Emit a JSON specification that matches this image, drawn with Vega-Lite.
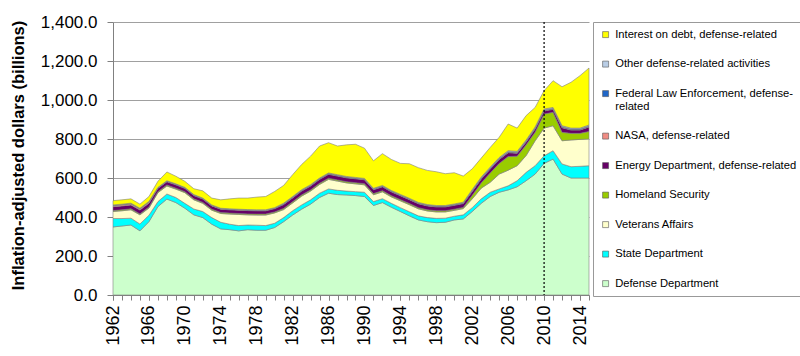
{
  "$schema": "https://vega.github.io/schema/vega-lite/v6.json",
  "width": 476,
  "height": 273,
  "autosize": {"type": "none"},
  "padding": {"left": 113, "top": 22, "right": 211, "bottom": 61},
  "background": "white",
  "config": {"view": {"stroke": null}, "font": "Liberation Sans"},
  "datasets": {
    "spend": [
      {"Year":1962,"D":349,"S":43,"V":36,"H":5,"E":20,"N":6,"F":1,"O":2,"I":22},
      {"Year":1963,"D":354,"S":38,"V":40,"H":5,"E":20,"N":6,"F":1,"O":2,"I":22},
      {"Year":1964,"D":359,"S":35,"V":43,"H":5,"E":20,"N":6,"F":1,"O":2,"I":22},
      {"Year":1965,"D":329,"S":35,"V":47,"H":5,"E":20,"N":6,"F":1,"O":2,"I":21},
      {"Year":1966,"D":376,"S":33,"V":37,"H":5,"E":20,"N":6,"F":1,"O":2,"I":25},
      {"Year":1967,"D":453,"S":26,"V":46,"H":5,"E":17,"N":2,"F":1,"O":2,"I":31},
      {"Year":1968,"D":492,"S":26,"V":41,"H":5,"E":17,"N":2,"F":1,"O":2,"I":45},
      {"Year":1969,"D":474,"S":26,"V":43,"H":5,"E":17,"N":2,"F":1,"O":2,"I":39},
      {"Year":1970,"D":445,"S":25,"V":55,"H":5,"E":17,"N":2,"F":1,"O":2,"I":31},
      {"Year":1971,"D":411,"S":30,"V":47,"H":5,"E":17,"N":2,"F":1,"O":2,"I":30},
      {"Year":1972,"D":397,"S":31,"V":42,"H":5,"E":17,"N":2,"F":1,"O":2,"I":37},
      {"Year":1973,"D":363,"S":34,"V":38,"H":5,"E":17,"N":2,"F":1,"O":2,"I":35},
      {"Year":1974,"D":339,"S":34,"V":45,"H":5,"E":17,"N":2,"F":1,"O":2,"I":43},
      {"Year":1975,"D":335,"S":28,"V":52,"H":5,"E":17,"N":2,"F":1,"O":2,"I":51},
      {"Year":1976,"D":329,"S":27,"V":57,"H":5,"E":17,"N":2,"F":1,"O":2,"I":57},
      {"Year":1977,"D":335,"S":24,"V":52,"H":5,"E":17,"N":2,"F":1,"O":2,"I":59},
      {"Year":1978,"D":332,"S":26,"V":52,"H":5,"E":17,"N":2,"F":1,"O":2,"I":65},
      {"Year":1979,"D":332,"S":24,"V":54,"H":5,"E":17,"N":2,"F":1,"O":2,"I":68},
      {"Year":1980,"D":346,"S":22,"V":53,"H":5,"E":17,"N":2,"F":1,"O":2,"I":83},
      {"Year":1981,"D":376,"S":21,"V":41,"H":6,"E":20,"N":2,"F":2,"O":3,"I":91},
      {"Year":1982,"D":410,"S":22,"V":40,"H":6,"E":20,"N":2,"F":2,"O":3,"I":112},
      {"Year":1983,"D":440,"S":22,"V":45,"H":6,"E":20,"N":2,"F":2,"O":3,"I":129},
      {"Year":1984,"D":466,"S":22,"V":45,"H":6,"E":20,"N":2,"F":2,"O":3,"I":146},
      {"Year":1985,"D":500,"S":22,"V":45,"H":6,"E":20,"N":2,"F":2,"O":3,"I":164},
      {"Year":1986,"D":522,"S":22,"V":49,"H":6,"E":20,"N":2,"F":2,"O":3,"I":155},
      {"Year":1987,"D":515,"S":22,"V":47,"H":6,"E":20,"N":2,"F":2,"O":3,"I":147},
      {"Year":1988,"D":513,"S":20,"V":42,"H":6,"E":20,"N":2,"F":2,"O":3,"I":162},
      {"Year":1989,"D":510,"S":20,"V":40,"H":6,"E":20,"N":2,"F":2,"O":3,"I":170},
      {"Year":1990,"D":505,"S":22,"V":38,"H":6,"E":20,"N":2,"F":2,"O":3,"I":155},
      {"Year":1991,"D":459,"S":20,"V":35,"H":6,"E":20,"N":2,"F":2,"O":3,"I":141},
      {"Year":1992,"D":474,"S":20,"V":35,"H":6,"E":20,"N":2,"F":2,"O":3,"I":163},
      {"Year":1993,"D":450,"S":20,"V":33,"H":6,"E":20,"N":2,"F":2,"O":3,"I":159},
      {"Year":1994,"D":428,"S":20,"V":35,"H":6,"E":20,"N":2,"F":2,"O":3,"I":159},
      {"Year":1995,"D":406,"S":21,"V":36,"H":6,"E":20,"N":2,"F":2,"O":3,"I":177},
      {"Year":1996,"D":385,"S":21,"V":36,"H":6,"E":20,"N":2,"F":2,"O":3,"I":178},
      {"Year":1997,"D":376,"S":21,"V":34,"H":6,"E":20,"N":2,"F":2,"O":3,"I":175},
      {"Year":1998,"D":371,"S":22,"V":33,"H":6,"E":20,"N":2,"F":2,"O":3,"I":173},
      {"Year":1999,"D":373,"S":21,"V":32,"H":6,"E":20,"N":2,"F":2,"O":3,"I":163},
      {"Year":2000,"D":385,"S":19,"V":30,"H":6,"E":20,"N":2,"F":2,"O":3,"I":160},
      {"Year":2001,"D":390,"S":21,"V":32,"H":6,"E":20,"N":2,"F":2,"O":3,"I":134},
      {"Year":2002,"D":428,"S":20,"V":45,"H":18,"E":20,"N":2,"F":3,"O":5,"I":106},
      {"Year":2003,"D":470,"S":23,"V":55,"H":27,"E":20,"N":2,"F":3,"O":5,"I":97},
      {"Year":2004,"D":505,"S":22,"V":51,"H":48,"E":20,"N":2,"F":3,"O":5,"I":101},
      {"Year":2005,"D":527,"S":17,"V":76,"H":55,"E":20,"N":2,"F":3,"O":5,"I":104},
      {"Year":2006,"D":539,"S":21,"V":80,"H":70,"E":20,"N":2,"F":3,"O":5,"I":137},
      {"Year":2007,"D":555,"S":31,"V":77,"H":49,"E":15,"N":2,"F":3,"O":5,"I":119},
      {"Year":2008,"D":586,"S":43,"V":86,"H":55,"E":15,"N":2,"F":3,"O":5,"I":125},
      {"Year":2009,"D":620,"S":43,"V":128,"H":44,"E":17,"N":2,"F":3,"O":5,"I":100},
      {"Year":2010,"D":675,"S":39,"V":142,"H":72,"E":16,"N":2,"F":3,"O":5,"I":94},
      {"Year":2011,"D":697,"S":43,"V":128,"H":69,"E":15,"N":2,"F":3,"O":5,"I":137},
      {"Year":2012,"D":620,"S":52,"V":119,"H":43,"E":24,"N":2,"F":3,"O":5,"I":200},
      {"Year":2013,"D":600,"S":58,"V":137,"H":34,"E":17,"N":2,"F":3,"O":5,"I":235},
      {"Year":2014,"D":600,"S":60,"V":138,"H":31,"E":17,"N":2,"F":3,"O":5,"I":269},
      {"Year":2015,"D":600,"S":63,"V":137,"H":39,"E":23,"N":2,"F":3,"O":5,"I":292}
    ],
    "series": [
      {"k":"D","name":"Defense Department","rank":1},
      {"k":"S","name":"State Department","rank":2},
      {"k":"V","name":"Veterans Affairs","rank":3},
      {"k":"H","name":"Homeland Security","rank":4},
      {"k":"E","name":"Energy Department, defense-related","rank":5},
      {"k":"N","name":"NASA, defense-related","rank":6},
      {"k":"F","name":"Federal Law Enforcement, defense-related","rank":7},
      {"k":"O","name":"Other defense-related activities","rank":8},
      {"k":"I","name":"Interest on debt, defense-related","rank":9}
    ],
    "marker": [{"Year":2010}]
  },
  "resolve": {"axis": {"x": "independent"}},
  "layer": [
    {
      "data": {"name": "spend"},
      "transform": [
        {"fold": ["D","S","V","H","E","N","F","O","I"], "as": ["k","value"]},
        {"lookup": "k", "from": {"data": {"name": "series"}, "key": "k", "fields": ["name","rank"]}}
      ],
      "mark": {"type": "area", "stroke": "#808080", "strokeWidth": 0.6},
      "encoding": {
        "x": {
          "field": "Year", "type": "quantitative",
          "scale": {"domain": [1962, 2015], "nice": false, "zero": false},
          "axis": {
            "orient": "bottom",
            "title": null,
            "values": [1962,1966,1970,1974,1978,1982,1986,1990,1994,1998,2002,2006,2010,2014],
            "format": "d",
            "labelAngle": -90,
            "labelFontSize": 18,
            "labelColor": "black",
            "labelPadding": 5,
            "labelOverlap": false,
            "labelFlush": false,
            "tickSize": 5,
            "tickColor": "#808080",
            "domainColor": "#808080",
            "grid": false
          }
        },
        "y": {
          "field": "value", "type": "quantitative", "stack": "zero",
          "scale": {"domain": [0, 1400], "nice": false},
          "axis": {
            "title": "Inflation-adjusted dollars (billions)",
            "titleFontSize": 16.5,
            "titleFontWeight": "bold",
            "titleColor": "black",
            "titleX": -95,
            "titleY": 133,
            "titleAngle": 270,
            "titleAlign": "center",
            "titleBaseline": "middle",
            "values": [0,200,400,600,800,1000,1200,1400],
            "format": ",.1f",
            "labelFontSize": 17,
            "labelColor": "black",
            "labelPadding": 10,
            "tickSize": 6,
            "tickColor": "#808080",
            "domainColor": "#808080",
            "grid": true,
            "gridColor": "#A0A0A0",
            "gridWidth": 1
          }
        },
        "color": {
          "field": "name", "type": "nominal",
          "scale": {
            "domain": ["Interest on debt, defense-related","Other defense-related activities","Federal Law Enforcement, defense-related","NASA, defense-related","Energy Department, defense-related","Homeland Security","Veterans Affairs","State Department","Defense Department"],
            "range": ["#FFFF00","#B9CDE5","#1F66C8","#F08C84","#660066","#99CC00","#FFFFCC","#00FFFF","#CCFFCC"]
          },
          "legend": {
            "title": null,
            "orient": "none",
            "legendX": 480,
            "legendY": 0,
            "symbolType": "square",
            "symbolSize": 36,
            "symbolStrokeColor": "#555555",
            "symbolStrokeWidth": 0.6,
            "labelFontSize": 11.2,
            "labelColor": "black",
            "labelOffset": 4,
            "labelLimit": 400,
            "rowPadding": 17.5,
            "padding": 7,
            "strokeColor": "#999999",
            "fillColor": "white",
            "labelExpr": "datum.label == 'Federal Law Enforcement, defense-related' ? ['Federal Law Enforcement, defense-', 'related'] : datum.label"
          }
        },
        "order": {"field": "rank", "type": "quantitative", "sort": "ascending"}
      }
    },
    {
      "data": {"name": "marker"},
      "mark": {"type": "rule", "color": "black", "strokeDash": [2, 2], "strokeWidth": 1.2},
      "encoding": {
        "x": {
          "field": "Year", "type": "quantitative",
          "axis": {
            "orient": "bottom",
            "title": null,
            "values": [1962,1963,1964,1965,1966,1967,1968,1969,1970,1971,1972,1973,1974,1975,1976,1977,1978,1979,1980,1981,1982,1983,1984,1985,1986,1987,1988,1989,1990,1991,1992,1993,1994,1995,1996,1997,1998,1999,2000,2001,2002,2003,2004,2005,2006,2007,2008,2009,2010,2011,2012,2013,2014,2015],
            "labels": false,
            "domain": false,
            "grid": false,
            "tickSize": 5,
            "tickColor": "#808080"
          }
        }
      }
    }
  ]
}
